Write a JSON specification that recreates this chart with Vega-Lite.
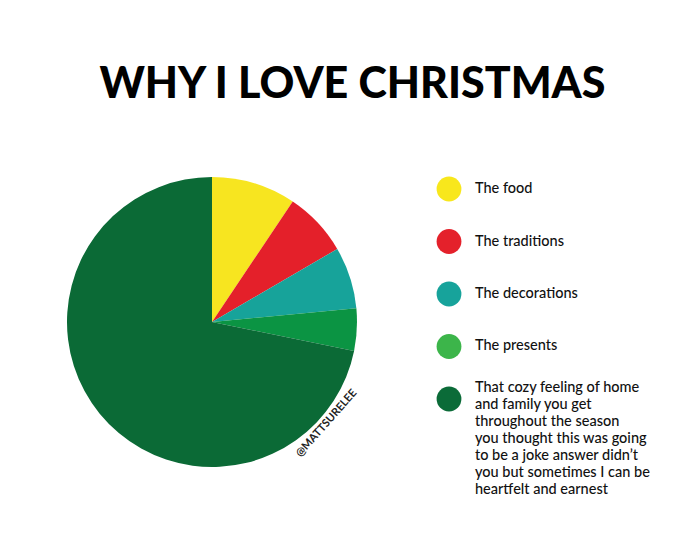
{
  "$schema": "https://vega.github.io/schema/vega-lite/v6.json",
  "background": "white",
  "padding": {"left": 67, "top": 63, "right": 10, "bottom": 10},
  "config": {"view": {"stroke": null}, "text": {"font": "Lato"}},
  "title": {"text": "WHY I LOVE CHRISTMAS", "font": "Lato", "fontSize": 43, "fontWeight": 900, "color": "#000000", "anchor": "middle", "dx": -6, "offset": 70},
  "data": {"values": [
    {"i": 1, "key": "food", "label": "The food", "v": 9.4},
    {"i": 2, "key": "traditions", "label": "The traditions", "v": 7.2},
    {"i": 3, "key": "decorations", "label": "The decorations", "v": 6.9},
    {"i": 4, "key": "presents", "label": "The presents", "v": 4.7},
    {"i": 5, "key": "cozy", "label": "That cozy feeling of home\nand family you get\nthroughout the season\nyou thought this was going\nto be a joke answer didn’t\nyou but sometimes I can be\nheartfelt and earnest", "v": 71.8}
  ]},
  "resolve": {"scale": {"color": "independent"}},
  "spacing": 76,
  "hconcat": [
    {
      "width": 290,
      "height": 290,
      "layer": [
        {
          "mark": {"type": "arc", "stroke": null},
          "encoding": {
            "theta": {"field": "v", "type": "quantitative", "stack": true},
            "order": {"field": "i", "type": "quantitative"},
            "color": {"field": "key", "type": "nominal", "legend": null,
              "scale": {"domain": ["food", "traditions", "decorations", "presents", "cozy"],
                        "range": ["#f7e520", "#e4202a", "#17a39a", "#0b9443", "#0b6a36"]}}
          }
        },
        {
          "data": {"values": [{"tag": "@MATTSURELEE"}]},
          "mark": {"type": "text", "radius": 153, "theta": 2.295, "angle": -48.5, "align": "center", "baseline": "middle", "fontSize": 11, "fontWeight": "bold", "color": "#222222"},
          "encoding": {"text": {"field": "tag", "type": "nominal"}}
        }
      ]
    },
    {
      "width": 28,
      "height": 234,
      "encoding": {
        "y": {"field": "key", "type": "nominal", "sort": ["food", "traditions", "decorations", "presents", "cozy"], "axis": null,
              "scale": {"type": "point", "padding": 0.2286}}
      },
      "layer": [
        {
          "mark": {"type": "point", "filled": true, "opacity": 1, "size": 615, "shape": "circle"},
          "encoding": {
            "color": {"field": "key", "type": "nominal", "legend": null,
              "scale": {"domain": ["food", "traditions", "decorations", "presents", "cozy"],
                        "range": ["#f8e71c", "#e4212b", "#17a39b", "#3cb54a", "#0b6b38"]}}
          }
        },
        {
          "transform": [{"filter": "datum.i < 5"}],
          "mark": {"type": "text", "align": "left", "baseline": "middle", "dx": 26, "fontSize": 14.5, "fontWeight": 500, "color": "#111111"},
          "encoding": {"text": {"field": "label", "type": "nominal"}}
        },
        {
          "transform": [{"filter": "datum.i == 5"}],
          "mark": {"type": "text", "align": "left", "baseline": "top", "dx": 26, "dy": -18, "fontSize": 14.5, "fontWeight": 500, "lineHeight": 17, "lineBreak": "\n", "color": "#111111"},
          "encoding": {"text": {"field": "label", "type": "nominal"}}
        }
      ]
    }
  ]
}
